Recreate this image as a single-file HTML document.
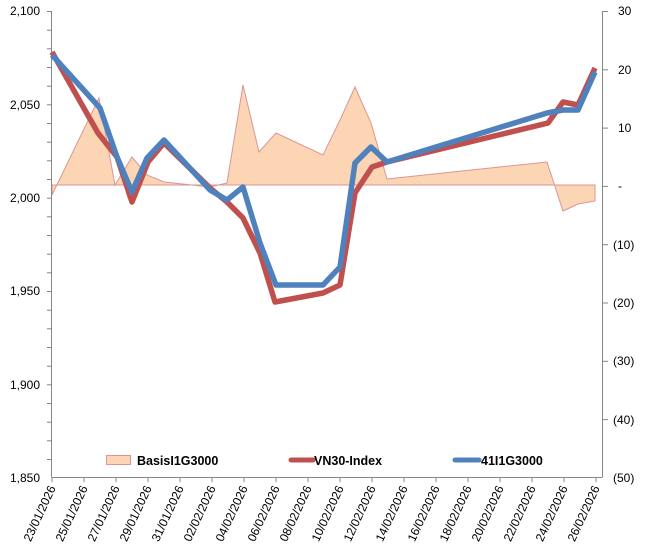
<!DOCTYPE html>
<html><head><meta charset="utf-8"><style>
html,body{margin:0;padding:0;background:#fff;}
svg{display:block;font-family:"Liberation Sans",Arial,sans-serif;}
</style></head><body>
<svg width="645" height="553" viewBox="0 0 645 553" xmlns="http://www.w3.org/2000/svg">
<rect width="645" height="553" fill="#fff"/>
<polygon points="52,185 52,195 99,98 115,185 132,157 147,175 164,182 210,187 227,183 243,85 259,152 276,133 323,155 340,120 355,87 371,123 387,179 547,162 563,211 578,204 595,201 595,185" fill="#fcd5b5" stroke="#d99694" stroke-width="1"/>
<line x1="52" y1="185" x2="595" y2="185" stroke="#d99694" stroke-width="1"/>
<g stroke="#868686" stroke-width="1" fill="none">
<line x1="51.5" y1="11" x2="51.5" y2="477"/>
<line x1="602.5" y1="11" x2="602.5" y2="477"/>
<line x1="51.5" y1="477.5" x2="602.5" y2="477.5"/>
</g>
<g stroke="#868686" stroke-width="1">
<line x1="47" y1="11.5" x2="52" y2="11.5"/><line x1="47" y1="30.2" x2="52" y2="30.2"/><line x1="47" y1="48.8" x2="52" y2="48.8"/><line x1="47" y1="67.5" x2="52" y2="67.5"/><line x1="47" y1="86.2" x2="52" y2="86.2"/><line x1="47" y1="104.8" x2="52" y2="104.8"/><line x1="47" y1="123.5" x2="52" y2="123.5"/><line x1="47" y1="142.2" x2="52" y2="142.2"/><line x1="47" y1="160.8" x2="52" y2="160.8"/><line x1="47" y1="179.5" x2="52" y2="179.5"/><line x1="47" y1="198.2" x2="52" y2="198.2"/><line x1="47" y1="216.8" x2="52" y2="216.8"/><line x1="47" y1="235.5" x2="52" y2="235.5"/><line x1="47" y1="254.2" x2="52" y2="254.2"/><line x1="47" y1="272.8" x2="52" y2="272.8"/><line x1="47" y1="291.5" x2="52" y2="291.5"/><line x1="47" y1="310.2" x2="52" y2="310.2"/><line x1="47" y1="328.8" x2="52" y2="328.8"/><line x1="47" y1="347.5" x2="52" y2="347.5"/><line x1="47" y1="366.2" x2="52" y2="366.2"/><line x1="47" y1="384.8" x2="52" y2="384.8"/><line x1="47" y1="403.5" x2="52" y2="403.5"/><line x1="47" y1="422.2" x2="52" y2="422.2"/><line x1="47" y1="440.8" x2="52" y2="440.8"/><line x1="47" y1="459.5" x2="52" y2="459.5"/>
<line x1="603" y1="11.5" x2="608" y2="11.5"/><line x1="603" y1="69.8" x2="608" y2="69.8"/><line x1="603" y1="128.1" x2="608" y2="128.1"/><line x1="603" y1="186.4" x2="608" y2="186.4"/><line x1="603" y1="244.7" x2="608" y2="244.7"/><line x1="603" y1="303" x2="608" y2="303"/><line x1="603" y1="361.3" x2="608" y2="361.3"/><line x1="603" y1="419.6" x2="608" y2="419.6"/>
<line x1="52" y1="477" x2="52" y2="482"/><line x1="84" y1="477" x2="84" y2="482"/><line x1="116" y1="477" x2="116" y2="482"/><line x1="148" y1="477" x2="148" y2="482"/><line x1="180" y1="477" x2="180" y2="482"/><line x1="212" y1="477" x2="212" y2="482"/><line x1="244" y1="477" x2="244" y2="482"/><line x1="276" y1="477" x2="276" y2="482"/><line x1="308" y1="477" x2="308" y2="482"/><line x1="340" y1="477" x2="340" y2="482"/><line x1="372" y1="477" x2="372" y2="482"/><line x1="404" y1="477" x2="404" y2="482"/><line x1="436" y1="477" x2="436" y2="482"/><line x1="468" y1="477" x2="468" y2="482"/><line x1="500" y1="477" x2="500" y2="482"/><line x1="532" y1="477" x2="532" y2="482"/><line x1="564" y1="477" x2="564" y2="482"/><line x1="596" y1="477" x2="596" y2="482"/>
</g>
<polyline points="52,52 98,133 117,157 132,202 148,162 164,143 210,188 227,202 243,218 260,253 275,302 323,293 340,285 355,193 372,167 387,162 548,123 563,102 578,105 595,68" fill="none" stroke="#c0504d" stroke-width="5.5" stroke-linejoin="round"/>
<polyline points="52,55 100,108 117,157 132,192 147,158 164,140 210,190 227,200 243,187 260,243 276,285 323,285 340,267 355,163 371,147 387,162 547,113 563,110 578,110 595,72" fill="none" stroke="#4f81bd" stroke-width="5.5" stroke-linejoin="round"/>
<g font-size="12" fill="#000" text-anchor="end">
<text x="40" y="15">2,100</text><text x="40" y="109">2,050</text><text x="40" y="202">2,000</text><text x="40" y="295">1,950</text><text x="40" y="389">1,900</text><text x="40" y="482">1,850</text>
</g>
<g font-size="12" fill="#000" text-anchor="start">
<text x="618" y="15">30</text><text x="618" y="74">20</text><text x="618" y="132">10</text><text x="618" y="190">-</text><text x="613" y="249">(10)</text><text x="613" y="307">(20)</text><text x="613" y="365">(30)</text><text x="613" y="424">(40)</text><text x="613" y="482">(50)</text>
</g>
<g font-size="12" fill="#000" text-anchor="end">
<text transform="translate(56,488) rotate(-65)">23/01/2026</text>
<text transform="translate(88,488) rotate(-65)">25/01/2026</text>
<text transform="translate(120,488) rotate(-65)">27/01/2026</text>
<text transform="translate(152,488) rotate(-65)">29/01/2026</text>
<text transform="translate(184,488) rotate(-65)">31/01/2026</text>
<text transform="translate(216,488) rotate(-65)">02/02/2026</text>
<text transform="translate(248,488) rotate(-65)">04/02/2026</text>
<text transform="translate(280,488) rotate(-65)">06/02/2026</text>
<text transform="translate(312,488) rotate(-65)">08/02/2026</text>
<text transform="translate(344,488) rotate(-65)">10/02/2026</text>
<text transform="translate(376,488) rotate(-65)">12/02/2026</text>
<text transform="translate(408,488) rotate(-65)">14/02/2026</text>
<text transform="translate(440,488) rotate(-65)">16/02/2026</text>
<text transform="translate(472,488) rotate(-65)">18/02/2026</text>
<text transform="translate(504,488) rotate(-65)">20/02/2026</text>
<text transform="translate(536,488) rotate(-65)">22/02/2026</text>
<text transform="translate(568,488) rotate(-65)">24/02/2026</text>
<text transform="translate(600,488) rotate(-65)">26/02/2026</text>
</g>
<rect x="106.5" y="455.5" width="24" height="9" fill="#fcd5b5" stroke="#d99694"/>
<text x="137" y="465" font-size="12.5" font-weight="bold">BasisI1G3000</text>
<line x1="291" y1="460" x2="313" y2="460" stroke="#c0504d" stroke-width="5" stroke-linecap="round"/>
<text x="314" y="465" font-size="12.5" font-weight="bold">VN30-Index</text>
<line x1="455" y1="460" x2="479" y2="460" stroke="#4f81bd" stroke-width="5" stroke-linecap="round"/>
<text x="481" y="465" font-size="12.5" font-weight="bold">41I1G3000</text>
</svg>
</body></html>
